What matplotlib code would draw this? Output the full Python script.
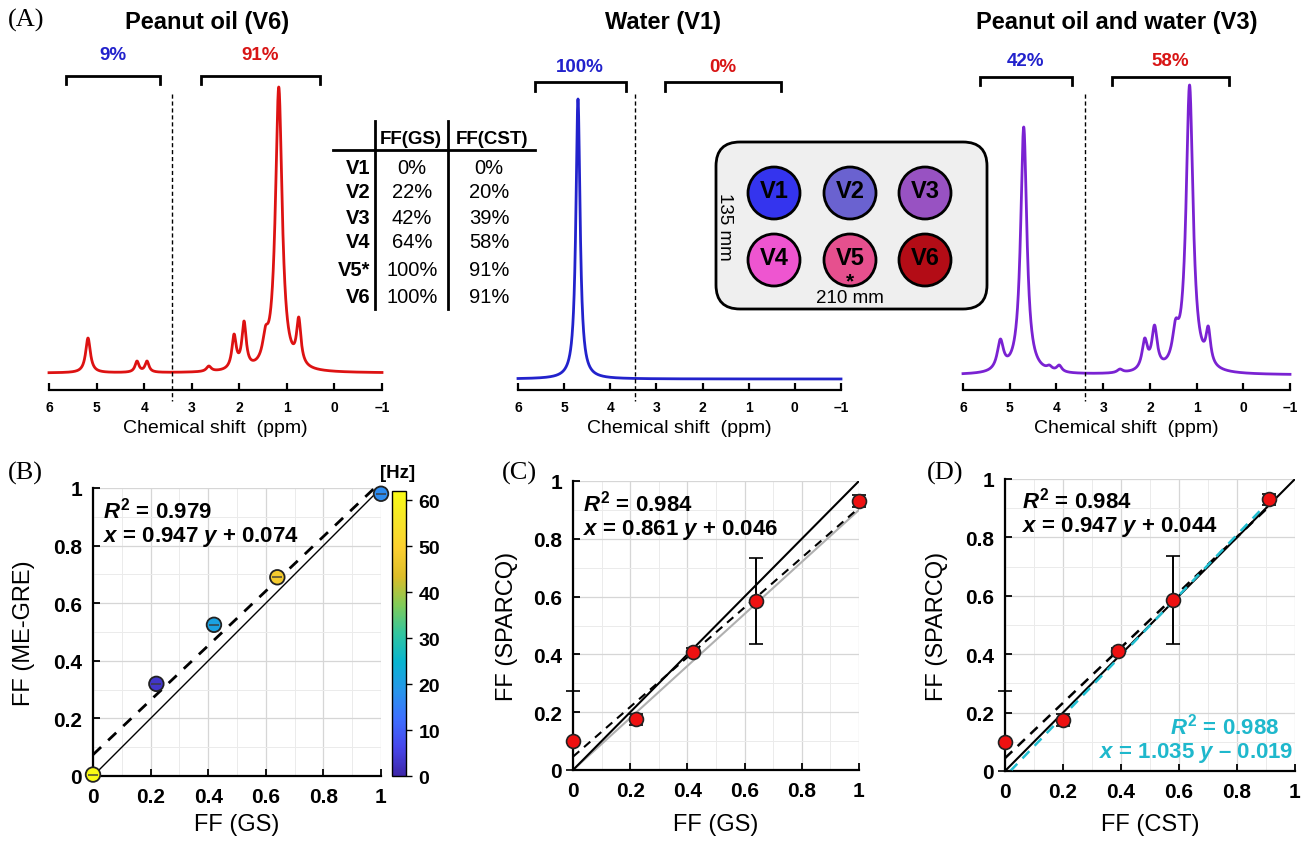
import numpy as np
import matplotlib
matplotlib.use('Agg')
import matplotlib.pyplot as plt
from matplotlib.colors import LinearSegmentedColormap
from matplotlib.patches import FancyBboxPatch, Circle
from matplotlib.cm import ScalarMappable
from matplotlib.colors import Normalize

W, H = 1309, 845
plt.rcParams['font.family'] = ['Liberation Sans', 'DejaVu Sans']
plt.rcParams['mathtext.fontset'] = 'custom'
plt.rcParams['mathtext.rm'] = 'Liberation Sans:bold'
plt.rcParams['mathtext.it'] = 'Liberation Sans:italic:bold'
plt.rcParams['mathtext.bf'] = 'Liberation Sans:bold'

# ---------------- data ----------------
ppm_ticks = [6, 5, 4, 3, 2, 1, 0, -1]
ppm_tick_labels = ['6', '5', '4', '3', '2', '1', '0', '\u20131']

# observed peak positions (ppm), peak heights (a.u.) and line widths (ppm)
oil_ppm = [5.18, 4.15, 3.94, 2.64, 2.11, 1.90, 1.45, 1.17, 0.75]
oil_height = [35, 12, 12, 7, 39, 52, 47, 286, 56]
oil_fwhm = [0.12, 0.10, 0.10, 0.12, 0.11, 0.11, 0.14, 0.17, 0.11]

water_ppm = [4.70]
water_height = [280]
water_fwhm = [0.11]

mix_ppm = [5.20, 4.70, 4.15, 3.94, 2.64, 2.11, 1.90, 1.45, 1.15, 0.75]
mix_height = [36, 248, 10, 10, 6, 37, 50, 56, 290, 49]
mix_fwhm = [0.16, 0.16, 0.13, 0.13, 0.14, 0.14, 0.14, 0.16, 0.18, 0.12]

titles = ['Peanut oil (V6)', 'Water (V1)', 'Peanut oil and water (V3)']
water_pct = ['9%', '100%', '42%']
fat_pct = ['91%', '0%', '58%']

table_rows = ['V1', 'V2', 'V3', 'V4', 'V5*', 'V6']
table_gs = [0, 22, 42, 64, 100, 100]
table_cst = [0, 20, 39, 58, 91, 91]

vial_labels = ['V1', 'V2', 'V3', 'V4', 'V5', 'V6']
vial_colors = ['#3434ee', '#6a62d0', '#9852c2', '#ee55d0', '#e6508e', '#b30c16']

# panel B
ff_gs = [0.0, 0.22, 0.42, 0.64, 1.0]
ff_megre = [0.005, 0.32, 0.525, 0.69, 0.98]
megre_hz = [62, 3, 21, 48, 17]
B_r2, B_slope, B_icpt = '0.979', 0.947, 0.074

# panels C / D
ff_cst = [0.0, 0.20, 0.39, 0.58, 0.91]
ff_sparcq = [0.10, 0.175, 0.41, 0.585, 0.93]
sparcq_err_lo = [0.10, 0.02, 0.012, 0.15, 0.02]
sparcq_err_hi = [0.175, 0.02, 0.012, 0.15, 0.02]
C_r2, C_slope, C_icpt = '0.984', 0.861, 0.046
D_r2, D_slope, D_icpt = '0.984', 0.947, 0.044
D2_r2, D2_slope, D2_icpt = '0.988', 1.035, -0.019

parula_colors = [(0.2422, 0.1504, 0.6603), (0.2803, 0.2782, 0.9221),
                 (0.2440, 0.4358, 0.9988), (0.1540, 0.5902, 0.9218),
                 (0.0297, 0.7082, 0.8163), (0.1938, 0.7758, 0.6251),
                 (0.5044, 0.7993, 0.3480), (0.8634, 0.7406, 0.1596),
                 (0.9892, 0.8136, 0.1885), (0.9657, 0.9000, 0.1600),
                 (0.9769, 0.9839, 0.0805)]
parula = LinearSegmentedColormap.from_list('parula', parula_colors)

# ---------------- helpers ----------------
fig = plt.figure(figsize=(W / 100, H / 100), dpi=100)


def add_ax_px(x0, y0, x1, y1):
    return fig.add_axes([x0 / W, 1 - y1 / H, (x1 - x0) / W, (y1 - y0) / H])


def ftext(x, y, s, **kw):
    fig.text(x / W, 1 - y / H, s, **kw)


def lorentz_spectrum(x, pos, height, fwhm):
    pos = np.asarray(pos, float)
    fwhm = np.asarray(fwhm, float)
    hw = fwhm / 2

    def shape(xx):
        return 1.0 / (1.0 + ((xx[:, None] - pos[None, :]) / hw[None, :]) ** 2)
    # amplitudes such that the summed curve reaches the observed heights
    M = shape(pos)
    amp = np.linalg.solve(M, np.asarray(height, float))
    return shape(x) @ amp


xppm = np.linspace(6, -1, 3000)

spec_defs = [
    dict(x0=49, x1=382, base=374, color='#dd1212', pk=(oil_ppm, oil_height, oil_fwhm),
         br_y=77, br_d=8, lab_y=55, dash=3.41, tx=207),
    dict(x0=518, x1=841, base=380, color='#2222cc', pk=(water_ppm, water_height, water_fwhm),
         br_y=83, br_d=9, lab_y=68, dash=3.47, tx=663),
    dict(x0=963, x1=1290, base=376, color='#7a22d2', pk=(mix_ppm, mix_height, mix_fwhm),
         br_y=78, br_d=8, lab_y=62, dash=3.39, tx=1117),
]
axis_px, top_px = 391, 40
for i, d in enumerate(spec_defs):
    ax = add_ax_px(d['x0'], top_px, d['x1'], axis_px)
    ax.set_facecolor('none')
    b = d['base']
    ax.set_xlim(6, -1)
    ax.set_ylim(b - axis_px, b - top_px)
    y = lorentz_spectrum(xppm, *d['pk'])
    ax.plot(xppm, y, color=d['color'], lw=2, clip_on=False)
    for s in ['left', 'top', 'right']:
        ax.spines[s].set_visible(False)
    ax.spines['bottom'].set_linewidth(1.6)
    ax.set_yticks([])
    ax.set_xticks(ppm_ticks)
    ax.set_xticklabels(ppm_tick_labels, fontweight='bold', fontsize=10)
    ax.tick_params(axis='x', direction='in', length=5, width=1.6, pad=7)
    ax.set_xlabel('Chemical shift  (ppm)', fontsize=14, labelpad=4)
    # brackets
    yt = b - d['br_y']
    ye = b - d['br_y'] - d['br_d']
    for (l, r) in [(5.64, 3.67), (2.81, 0.31)]:
        ax.plot([l, l, r, r], [ye, yt, yt, ye], color='k', lw=2, clip_on=False,
                solid_joinstyle='miter')
    ax.text((5.64 + 3.67) / 2, b - d['lab_y'], water_pct[i], color='#2222cc',
            fontsize=13.5, fontweight='bold', ha='center', va='center')
    ax.text((2.81 + 0.31) / 2, b - d['lab_y'], fat_pct[i], color='#d81515',
            fontsize=13.5, fontweight='bold', ha='center', va='center')
    ax.plot([d['dash'], d['dash']], [b - 95, b - 402], color='k', lw=1,
            ls=(0, (3, 2)), clip_on=False)
    ftext(d['tx'], 22, titles[i], fontsize=17, fontweight='bold', ha='center', va='center')

# ---------------- scatter panels ----------------
def style_scatter(ax, xlabel, ylabel, x0, y0, x1, y1, ylab_x):
    ax.set_xlim(0, 1)
    ax.set_ylim(0, 1)
    for s in ['top', 'right']:
        ax.spines[s].set_visible(False)
    for s in ['left', 'bottom']:
        ax.spines[s].set_linewidth(1.6)
    ticks = [0, 0.2, 0.4, 0.6, 0.8, 1.0]
    labels = ['0', '0.2', '0.4', '0.6', '0.8', '1']
    ax.set_xticks(ticks)
    ax.set_xticklabels(labels, fontweight='bold')
    ax.set_yticks(ticks)
    ax.set_yticklabels(labels, fontweight='bold')
    ax.set_xticks([0.1, 0.3, 0.5, 0.7, 0.9], minor=True)
    ax.set_yticks([0.1, 0.3, 0.5, 0.7, 0.9], minor=True)
    ax.grid(True, which='major', color='#d6d6d6', lw=0.9)
    ax.grid(True, which='minor', color='#ebebeb', lw=0.7)
    ax.set_axisbelow(True)
    ax.tick_params(which='major', direction='in', length=5, width=1.3, labelsize=15, pad=8)
    ax.tick_params(which='minor', length=0)
    ax.set_xlabel(xlabel, fontsize=17, va='center')
    ax.set_ylabel(ylabel, fontsize=17, va='center')
    ax.xaxis.set_label_coords(0.5, (y1 - 825) / (y1 - y0))
    ax.yaxis.set_label_coords((ylab_x - x0) / (x1 - x0), 0.5)


def fit_texts(ax, r2, slope, icpt, xa, ya, ha='left', color='k', dy=0.09, xb=None):
    sign = '+' if icpt >= 0 else '\u2013'
    ax.text(xa, ya, '$R^{2}$ = ' + r2, fontsize=16, fontweight='bold', va='center',
            ha=ha, color=color, transform=ax.transAxes)
    ax.text(xa if xb is None else xb, ya - dy,
            '$x$ = %.3f $y$ %s %.3f' % (slope, sign, abs(icpt)), fontsize=16,
            fontweight='bold', va='center', ha=ha, color=color, transform=ax.transAxes)


# Panel B
bx0, by0, bx1, by1 = 93, 489, 381, 777
axB = add_ax_px(bx0, by0, bx1, by1)
style_scatter(axB, 'FF (GS)', 'FF (ME-GRE)', bx0, by0, bx1, by1, 24)
axB.plot([0, 1], [0, 1], color='k', lw=1)
xsB = np.array([0, (1 - B_icpt) / B_slope])
axB.plot(xsB, B_slope * xsB + B_icpt, color='k', lw=2, dashes=(4, 3.5))
axB.scatter(ff_gs, ff_megre, c=megre_hz, cmap=parula, vmin=0, vmax=62, s=110,
            edgecolors='#222222', linewidths=1.3, zorder=5, clip_on=False)
axB.scatter(ff_gs, ff_megre, marker='_', s=50, color='#3a3a3a', linewidths=1.2,
            alpha=0.85, zorder=6, clip_on=False)
fit_texts(axB, B_r2, B_slope, B_icpt, 0.035, 0.925)

cax = add_ax_px(392, 492, 406, 777)
sm = ScalarMappable(norm=Normalize(0, 62), cmap=parula)
cb = fig.colorbar(sm, cax=cax)
cb.set_ticks([0, 10, 20, 30, 40, 50, 60])
cb.ax.set_yticklabels(['0', '10', '20', '30', '40', '50', '60'], fontweight='bold')
cb.ax.tick_params(labelsize=14, length=4, width=1, pad=5)
cb.outline.set_linewidth(1)
ftext(398, 474, '[Hz]', fontsize=13.5, fontweight='bold', ha='center', va='center')


def sparcq_panel(x0, y0, x1, y1, xvals, xlabel, ylab_x):
    ax = add_ax_px(x0, y0, x1, y1)
    style_scatter(ax, xlabel, 'FF (SPARCQ)', x0, y0, x1, y1, ylab_x)
    ax.plot([0, 1], [0, 1], color='k', lw=1.5, zorder=3)
    cont = ax.errorbar(xvals, ff_sparcq, yerr=[sparcq_err_lo, sparcq_err_hi], fmt='o',
                       mfc='#ee1111', mec='#222222', mew=1.2, ms=10, ecolor='k',
                       elinewidth=1.4, capsize=5, capthick=1.4, zorder=6)
    for a in cont.get_children():
        a.set_clip_on(False)
    return ax


# Panel C
axC = sparcq_panel(573, 482, 859, 771, ff_gs, 'FF (GS)', 507)
axC.plot([0, 1], [0, 0.9], color='#b0b0b0', lw=1.5, zorder=2)
xsC = np.array([0, 1])
axC.plot(xsC, C_slope * xsC + C_icpt, color='k', lw=1.5, dashes=(4, 3), zorder=3)
fit_texts(axC, C_r2, C_slope, C_icpt, 0.035, 0.925)

# Panel D
axD = sparcq_panel(1005, 480, 1295, 772, ff_cst, 'FF (CST)', 937)
xsD = np.array([0, 0.91])
axD.plot(xsD, D_slope * xsD + D_icpt, color='k', lw=1.8, dashes=(4, 3), zorder=3)
xsD2 = np.array([-D2_icpt / D2_slope, 0.91])
axD.plot(xsD2, D2_slope * xsD2 + D2_icpt, color='#22bfd2', lw=1.8, dashes=(4, 3), zorder=3)
fit_texts(axD, D_r2, D_slope, D_icpt, 0.06, 0.93)
fit_texts(axD, D2_r2, D2_slope, D2_icpt, 0.945, 0.155, ha='right', color='#1fb8cc',
          xb=0.995)

# panel letters
for lab, x, y in [('(A)', 8, 20), ('(B)', 8, 473), ('(C)', 502, 473), ('(D)', 927, 473)]:
    ftext(x, y, lab, fontsize=19, family='Liberation Serif', ha='left', va='center')

# ---------------- overlay: table and phantom ----------------
ov = fig.add_axes([0, 0, 1, 1])
ov.set_xlim(0, W)
ov.set_ylim(H, 0)
ov.axis('off')
ov.set_facecolor('none')

ov.plot([375, 375], [122, 310], color='k', lw=2)
ov.plot([448, 448], [122, 310], color='k', lw=2)
ov.plot([333, 535], [151, 151], color='k', lw=2)
ov.text(411, 139, 'FF(GS)', fontsize=13.5, fontweight='bold', ha='center', va='center')
ov.text(492, 139, 'FF(CST)', fontsize=13.5, fontweight='bold', ha='center', va='center')
row_y = [168, 193, 218, 243, 271, 298]
for r, g, c, yy in zip(table_rows, table_gs, table_cst, row_y):
    ov.text(370, yy, r, fontsize=14.5, fontweight='bold', ha='right', va='center')
    ov.text(412, yy, '%d%%' % g, fontsize=14.5, ha='center', va='center')
    ov.text(489, yy, '%d%%' % c, fontsize=14.5, ha='center', va='center')

box = FancyBboxPatch((716, 143), 271, 167, boxstyle='round,pad=0,rounding_size=24',
                     fc='#efefef', ec='k', lw=2)
ov.add_patch(box)
col_x = [774, 850, 925]
rowv_y = [194, 261]
for k, (lab, colr) in enumerate(zip(vial_labels, vial_colors)):
    cx, cy = col_x[k % 3], rowv_y[k // 3]
    ov.add_patch(Circle((cx, cy), 26, fc=colr, ec='k', lw=2))
    ov.text(cx, cy - 2, lab, fontsize=17, fontweight='bold', ha='center', va='center')
ov.text(850, 282, '*', fontsize=15, fontweight='bold', ha='center', va='center')
ov.text(850, 299, '210 mm', fontsize=13.5, ha='center', va='center')
ov.text(725, 227, '135 mm', fontsize=13.5, ha='center', va='center', rotation=-90)

fig.savefig('out.png', dpi=100)
